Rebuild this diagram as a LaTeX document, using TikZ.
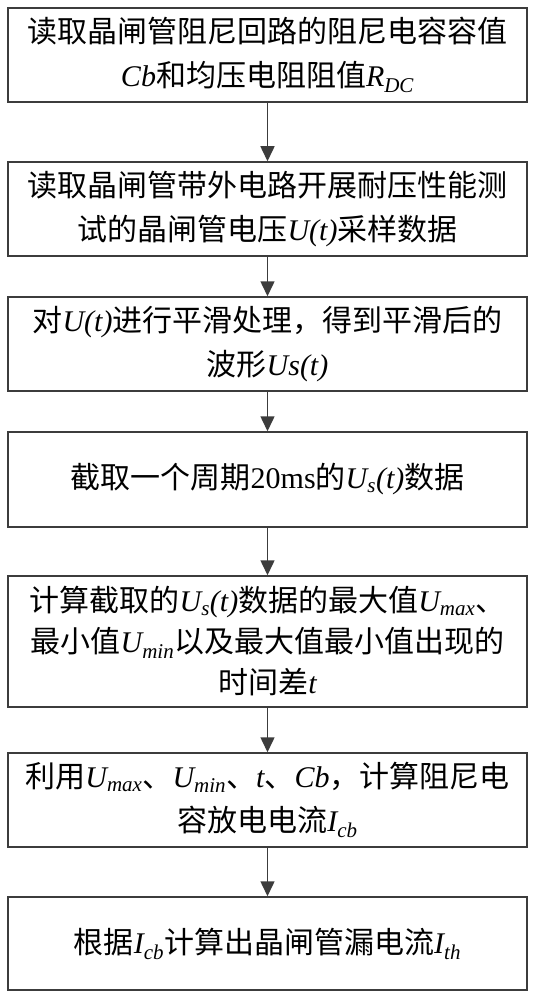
\documentclass[tikz,border=0pt]{standalone}
\usepackage{fontspec}
\setmainfont{Liberation Serif}
\newfontfamily\cjk{Noto Sans CJK SC}
\usetikzlibrary{arrows.meta}
\definecolor{linegray}{HTML}{3C3C3C}
\newcommand\li[1]{{\rmfamily\itshape #1}}
\newcommand\lu[1]{{\rmfamily #1}}
\newcommand\sbs[1]{\textsubscript{\rmfamily\itshape #1}}
\tikzset{
  stepbox/.style={draw=linegray, line width=1.5pt, minimum width=519pt, align=center, inner sep=0pt,
    font=\cjk\fontsize{30}{44}\selectfont},
  flowarr/.style={draw=linegray, line width=1.5pt, -{Triangle[length=15pt,width=14pt,fill=linegray]}}
}
\begin{document}
\begin{tikzpicture}[x=1pt,y=1pt]
\useasboundingbox[fill=white] (0,0) rectangle (536,-1000);
\node[stepbox, minimum height=94pt] (b1) at (267.5,-55) {读取晶闸管阻尼回路的阻尼电容容值\\\li{Cb}和均压电阻阻值\li{R}\sbs{DC}};
\node[stepbox, minimum height=94pt] (b2) at (267.5,-209) {读取晶闸管带外电路开展耐压性能测\\试的晶闸管电压\li{U(t)}采样数据};
\node[stepbox, minimum height=94pt] (b3) at (267.5,-344) {对\li{U(t)}进行平滑处理，得到平滑后的\\波形\li{Us(t)}};
\node[stepbox, minimum height=95pt] (b4) at (267.5,-479.5) {截取一个周期\lu{20ms}的\li{U}\sbs{s}\li{(t)}数据};
\node[stepbox, minimum height=131pt, font=\cjk\fontsize{30}{41}\selectfont] (b5) at (267.5,-641.5) {计算截取的\li{U}\sbs{s}\li{(t)}数据的最大值\li{U}\sbs{max}、\\最小值\li{U}\sbs{min}以及最大值最小值出现的\\时间差\li{t}};
\node[stepbox, minimum height=94pt] (b6) at (267.5,-800) {利用\li{U}\sbs{max}、\li{U}\sbs{min}、\li{t}、\li{Cb}，计算阻尼电\\容放电电流\li{I}\sbs{cb}};
\node[stepbox, minimum height=93pt] (b7) at (267.5,-943.5) {根据\li{I}\sbs{cb}计算出晶闸管漏电流\li{I}\sbs{th}};
\draw[flowarr] (b1) -- (b2);
\draw[flowarr] (b2) -- (b3);
\draw[flowarr] (b3) -- (b4);
\draw[flowarr] (b4) -- (b5);
\draw[flowarr] (b5) -- (b6);
\draw[flowarr] (b6) -- (b7);
\end{tikzpicture}
\end{document}
